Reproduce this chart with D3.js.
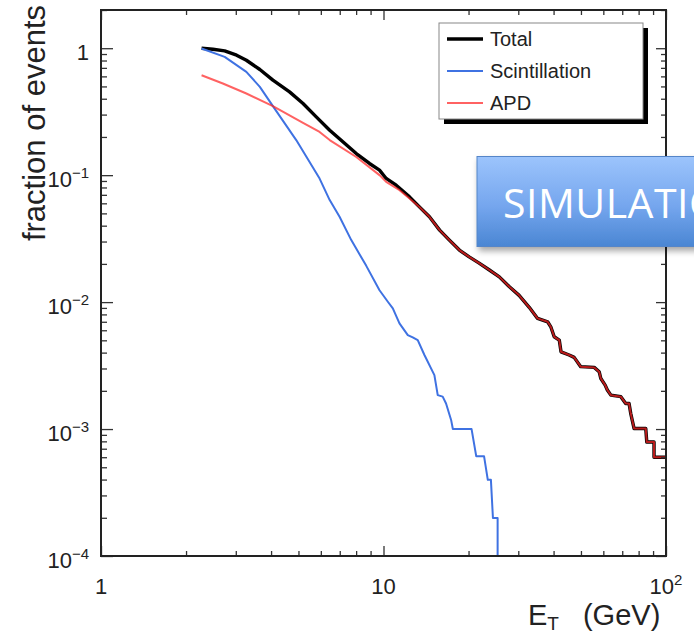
<!DOCTYPE html>
<html>
<head>
<meta charset="utf-8">
<script src="https://cdn.jsdelivr.net/npm/d3@7"></script>
<style>
  html, body { margin: 0; padding: 0; background: #fff; }
  svg { display: block; }
</style>
</head>
<body>
<div id="chart"></div>
<script>
/* Values: [E_T (GeV), fraction of events] */
const totalHead = [
  [2.27, 1.0], [2.49, 0.982], [2.74, 0.952], [3.02, 0.881], [3.27, 0.804],
  [3.65, 0.68], [4.06, 0.56], [4.65, 0.453], [5.19, 0.367], [5.78, 0.288],
  [6.45, 0.226], [7.18, 0.183], [8.01, 0.148], [8.92, 0.1236], [9.68, 0.1095],
  [10.22, 0.0942], [11.09, 0.0834], [12.36, 0.0675]
];

const apdHead = [
  [2.27, 0.613], [2.7, 0.527], [3.27, 0.44], [4.06, 0.35], [5.19, 0.258],
  [5.94, 0.219], [6.45, 0.189], [8.01, 0.139], [9.68, 0.1], [10.22, 0.0886],
  [11.4, 0.0761], [12.36, 0.0655]
];

// above ~13 GeV Total and APD are the same histogram
const sharedTail = [
  [13.4, 0.0562], [14.54, 0.047], [15.8, 0.0369], [17.11, 0.0308], [18.56, 0.0257],
  [20.1, 0.0227], [21.8, 0.0203], [23.7, 0.0179], [25.7, 0.0158], [27.9, 0.0132],
  [30.2, 0.0113], [32.8, 0.0091], [35.1, 0.00744], [38.1, 0.007], [39.1, 0.00639],
  [40.2, 0.00533], [41.9, 0.00502], [42.5, 0.00406], [45.4, 0.00383], [47.3, 0.00367],
  [49.9, 0.0031], [55.7, 0.00306], [58.0, 0.00283], [58.8, 0.0025], [60.9, 0.00222],
  [62.0, 0.00203], [63.8, 0.00185], [69.2, 0.0018], [72.0, 0.00159], [74.0, 0.00159],
  [75.0, 0.00133], [77.1, 0.00101], [84.8, 0.00101], [85.5, 0.00079], [90.7, 0.00079],
  [90.7, 0.0006], [100, 0.0006]
];

const scintillation = [
  [2.27, 0.995], [2.74, 0.854], [3.27, 0.651], [3.65, 0.496], [4.06, 0.35],
  [4.91, 0.189], [5.94, 0.094], [6.45, 0.0636], [6.99, 0.047], [7.69, 0.0308],
  [8.69, 0.0193], [9.68, 0.0124], [10.36, 0.01006], [10.79, 0.00892], [11.39, 0.0068],
  [12.19, 0.0055], [12.69, 0.00527], [13.22, 0.00502], [13.96, 0.00383], [15.14, 0.00266],
  [15.56, 0.00185], [16.2, 0.0018], [16.65, 0.00159], [17.35, 0.00118], [17.6, 0.001],
  [20.5, 0.001], [21.3, 0.00061], [22.7, 0.00061], [23.4, 0.000398], [24.0, 0.000398],
  [24.4, 0.000199], [25.35, 0.000199], [25.35, 0.0001]
];

const legendLabels = ["Total", "Scintillation", "APD"];
const xMajorTicks = [1, 10, 100];
const yMajorTicks = [1e-4, 1e-3, 1e-2, 1e-1, 1];
const yTickExponents = ["−4", "−3", "−2", "−1", ""];
const stampText = "SIMULATION";

const width = 694, height = 634;
const frame = { left: 101, right: 666, top: 10, bottom: 556 };
const font = "'Liberation Sans', Arial, Helvetica, sans-serif";

const svg = d3.select("#chart")
  .append("svg")
  .attr("width", width)
  .attr("height", height)
  .attr("viewBox", [0, 0, width, height]);

const xScale = d3.scaleLog().domain([1, 100]).range([frame.left, frame.right]);
const yScale = d3.scaleLog().domain([1e-4, 2]).range([frame.bottom, frame.top]);

const defs = svg.append("defs");
defs.append("clipPath").attr("id", "plotClip")
  .append("rect")
  .attr("x", frame.left).attr("y", frame.top)
  .attr("width", frame.right - frame.left)
  .attr("height", frame.bottom - frame.top);

const grad = defs.append("linearGradient")
  .attr("id", "stampGrad")
  .attr("x1", 0).attr("y1", 0).attr("x2", 0).attr("y2", 1);
grad.append("stop").attr("offset", "0%").attr("stop-color", "#9cc4fc");
grad.append("stop").attr("offset", "55%").attr("stop-color", "#75a6ee");
grad.append("stop").attr("offset", "100%").attr("stop-color", "#4a86d3");

const shadow = defs.append("filter").attr("id", "stampShadow")
  .attr("x", "-10%").attr("y", "-10%").attr("width", "130%").attr("height", "140%");
shadow.append("feDropShadow")
  .attr("dx", 2).attr("dy", 4).attr("stdDeviation", 3)
  .attr("flood-color", "#000").attr("flood-opacity", 0.35);

/* ---- curves ---- */
const line = d3.line()
  .x((d) => xScale(d[0]))
  .y((d) => yScale(d[1]));

const curves = svg.append("g").attr("clip-path", "url(#plotClip)");

curves.append("path")
  .datum(totalHead.concat(sharedTail))
  .attr("fill", "none")
  .attr("stroke", "#000")
  .attr("stroke-width", 3.4)
  .attr("stroke-linejoin", "round")
  .attr("d", line);

curves.append("path")
  .datum(scintillation)
  .attr("fill", "none")
  .attr("stroke", "#3f72e2")
  .attr("stroke-width", 2)
  .attr("stroke-linejoin", "round")
  .attr("d", line);

curves.append("path")
  .datum(apdHead.concat(sharedTail))
  .attr("fill", "none")
  .attr("stroke", "#ff2626")
  .attr("stroke-opacity", 0.72)
  .attr("stroke-width", 2)
  .attr("stroke-linejoin", "round")
  .attr("d", line);

/* ---- axes, ROOT style: ticks on all four sides pointing inwards ---- */
const xMinor = xScale.ticks().filter((t) => !xMajorTicks.includes(t));
const yMinor = yScale.ticks().filter((t) => !yMajorTicks.some((m) => Math.abs(m - t) / m < 1e-6));

const tickStyle = (g) => {
  g.select(".domain").remove();
  g.selectAll(".tick line").attr("stroke", "#333").attr("stroke-width", 1.3);
  g.selectAll(".tick text").remove();
};

const addAxis = (axisFn, scale, transform, majors, minors, majorLen, minorLen) => {
  svg.append("g").attr("transform", transform)
    .call(axisFn(scale).tickValues(majors).tickSizeInner(-majorLen).tickSizeOuter(0))
    .call(tickStyle);
  svg.append("g").attr("transform", transform)
    .call(axisFn(scale).tickValues(minors).tickSizeInner(-minorLen).tickSizeOuter(0))
    .call(tickStyle);
};

addAxis(d3.axisBottom, xScale, `translate(0,${frame.bottom})`, xMajorTicks, xMinor, 10, 5);
addAxis(d3.axisTop, xScale, `translate(0,${frame.top})`, xMajorTicks, xMinor, 10, 5);
addAxis(d3.axisLeft, yScale, `translate(${frame.left},0)`, yMajorTicks, yMinor, 12, 6);
addAxis(d3.axisRight, yScale, `translate(${frame.right},0)`, yMajorTicks, yMinor, 10, 5);

svg.append("rect")
  .attr("x", frame.left).attr("y", frame.top)
  .attr("width", frame.right - frame.left)
  .attr("height", frame.bottom - frame.top)
  .attr("fill", "none")
  .attr("stroke", "#222")
  .attr("stroke-width", 2);

/* ---- tick labels ---- */
const yLabels = svg.append("g")
  .attr("font-family", font)
  .attr("font-size", 22)
  .attr("fill", "#222")
  .attr("text-anchor", "end");

yMajorTicks.forEach((v, i) => {
  const t = yLabels.append("text")
    .attr("x", 89)
    .attr("y", yScale(v) + 12);
  if (yTickExponents[i] === "") {
    t.text("1");
  } else {
    t.append("tspan").text("10");
    t.append("tspan").attr("font-size", 15).attr("dy", -9).text(yTickExponents[i]);
  }
});

const xLabels = svg.append("g")
  .attr("font-family", font)
  .attr("font-size", 22)
  .attr("fill", "#222")
  .attr("text-anchor", "middle");

xMajorTicks.forEach((v) => {
  const t = xLabels.append("text")
    .attr("x", xScale(v))
    .attr("y", 594);
  if (v === 100) {
    t.append("tspan").text("10");
    t.append("tspan").attr("font-size", 15).attr("dy", -9).text("2");
  } else {
    t.text(v);
  }
});

/* ---- axis titles ---- */
svg.append("text")
  .attr("transform", "translate(45,5) rotate(-90)")
  .attr("text-anchor", "end")
  .attr("font-family", font)
  .attr("font-size", 31)
  .attr("fill", "#222")
  .text("fraction of events");

const xTitle = svg.append("text")
  .attr("x", 528)
  .attr("y", 625)
  .attr("font-family", font)
  .attr("font-size", 29)
  .attr("fill", "#222");
xTitle.append("tspan").text("E");
xTitle.append("tspan").attr("font-size", 19).attr("dy", 5).text("T");
xTitle.append("tspan").attr("dx", 24).attr("dy", -5).text("(GeV)");

/* ---- legend ---- */
const legend = svg.append("g").attr("transform", "translate(439,23)");
const legendColors = ["#000", "#3f72e2", "#ff2626"];
const legendWidths = [3.4, 2, 2];
const legendOpacity = [1, 1, 0.72];

legend.append("rect")
  .attr("x", 5).attr("y", 5)
  .attr("width", 204).attr("height", 96)
  .attr("fill", "#000");
legend.append("rect")
  .attr("width", 204).attr("height", 96)
  .attr("fill", "#fff")
  .attr("stroke", "#888")
  .attr("stroke-width", 1);

legend.selectAll("line.key")
  .data(legendLabels)
  .join("line")
  .attr("class", "key")
  .attr("x1", 8).attr("x2", 44)
  .attr("y1", (d, i) => 16 + i * 32)
  .attr("y2", (d, i) => 16 + i * 32)
  .attr("stroke", (d, i) => legendColors[i])
  .attr("stroke-opacity", (d, i) => legendOpacity[i])
  .attr("stroke-width", (d, i) => legendWidths[i]);

legend.selectAll("text.label")
  .data(legendLabels)
  .join("text")
  .attr("class", "label")
  .attr("x", 51)
  .attr("y", (d, i) => 16 + i * 32 + 7)
  .attr("font-family", font)
  .attr("font-size", 20)
  .attr("fill", "#222")
  .text((d) => d);

/* ---- pasted "SIMULATION" banner ---- */
const stamp = svg.append("g");
stamp.append("rect")
  .attr("x", 477).attr("y", 156.5)
  .attr("width", 260).attr("height", 90)
  .attr("fill", "url(#stampGrad)")
  .attr("stroke", "#5585c8")
  .attr("stroke-width", 1)
  .attr("filter", "url(#stampShadow)");
stamp.append("text")
  .attr("x", 503)
  .attr("y", 218)
  .attr("font-family", "'Open Sans', Lato, sans-serif")
  .attr("font-size", 41)
  .attr("letter-spacing", 0.5)
  .attr("fill", "#fff")
  .text(stampText);
</script>
</body>
</html>
